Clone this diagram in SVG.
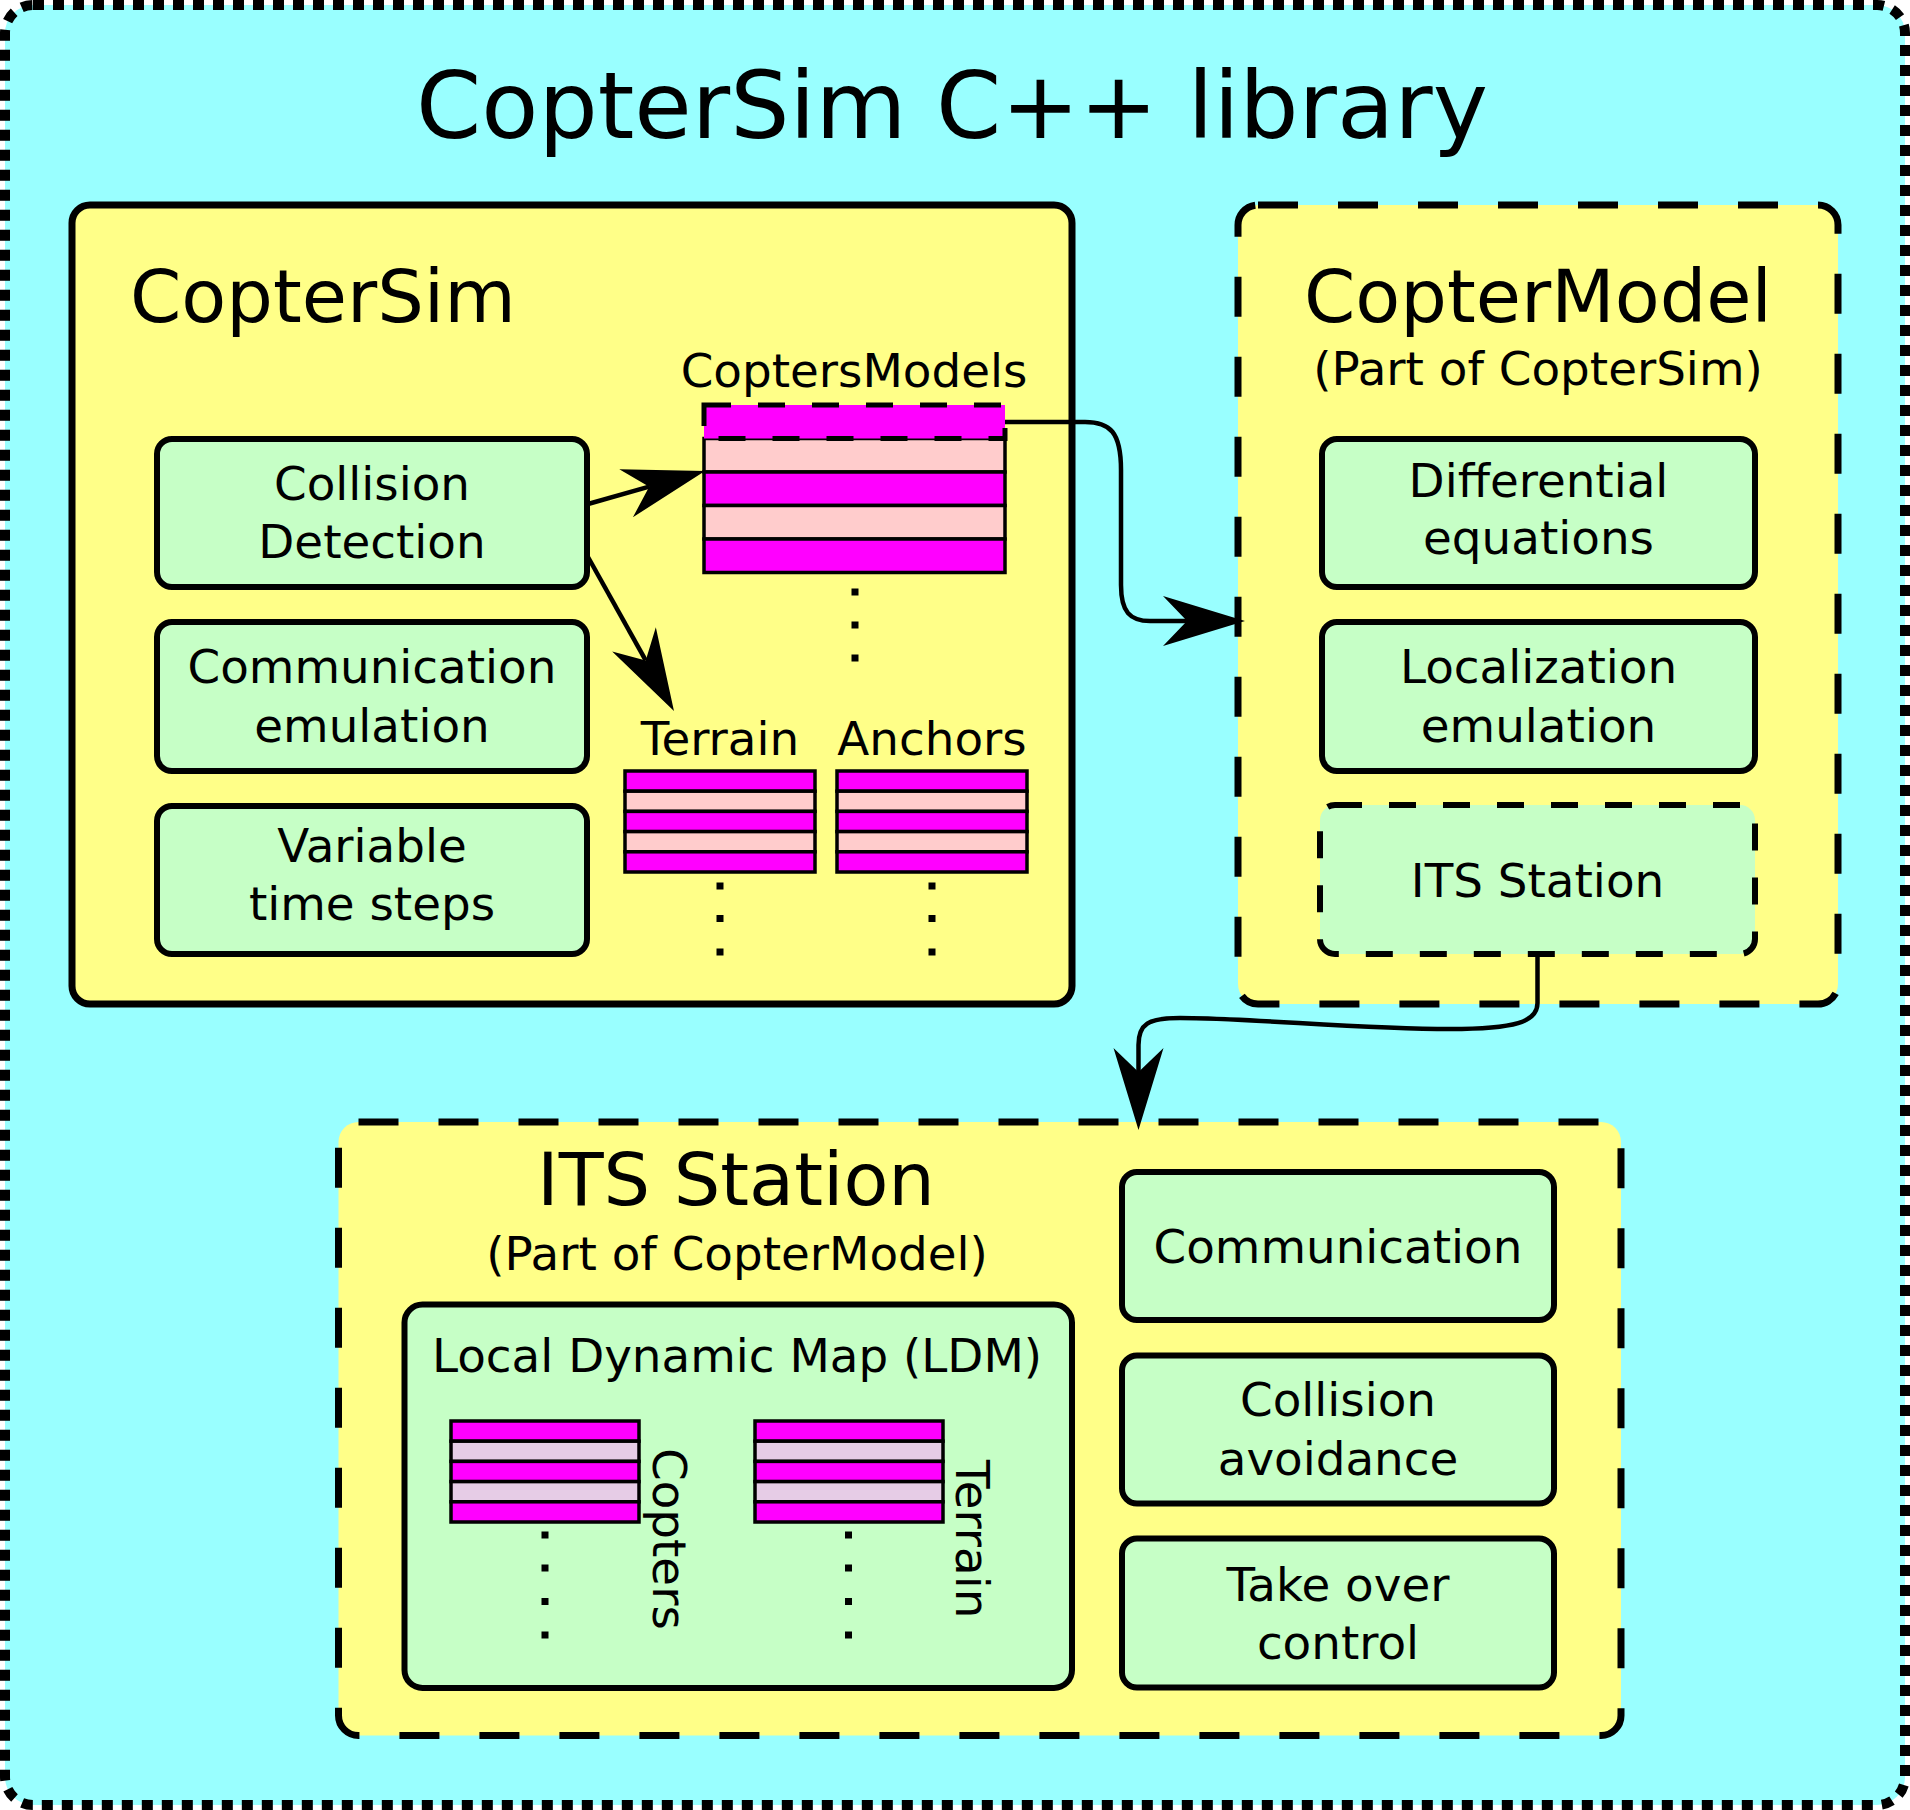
<svg xmlns="http://www.w3.org/2000/svg" width="1910" height="1810" viewBox="0 0 1910 1810">
<style>
text{font-family:"DejaVu Sans","Liberation Sans",sans-serif;fill:#000}
.title{font-size:93.4px;text-anchor:middle}
.h{font-size:73.5px}
.hc{font-size:73.5px;text-anchor:middle}
.m{font-size:46.8px;text-anchor:middle}
.grp{fill:#ffff88;stroke:#000;stroke-width:7}
.dash{stroke-dasharray:40,40}
.box{fill:#c6ffc6;stroke:#000;stroke-width:6}
.sdash{stroke-dasharray:27,27}
.mg{fill:#ff00ff;stroke:#000;stroke-width:3.5}
.pk{fill:#ffcccc;stroke:#000;stroke-width:3.5}
.lc{fill:#e6cce6;stroke:#000;stroke-width:3.5}
.dot{fill:#000}
.conn{fill:none;stroke:#000;stroke-width:4.5;marker-end:url(#arr)}
</style>
<defs>
<marker id="arr" markerUnits="userSpaceOnUse" orient="auto" markerWidth="100" markerHeight="60" viewBox="-26 -30 100 60" refX="0" refY="0">
<path d="M58,0 L-24,-25 L0,0 L-24,25 Z" fill="#000"/>
</marker>
</defs>
<rect x="0" y="0" width="1910" height="1810" fill="#fff"/>
<g id="library">
<rect x="5" y="5" width="1900" height="1800" rx="28" fill="#99ffff" stroke="#000" stroke-width="10" stroke-dasharray="11,9"/>
<text class="title" x="952" y="138">CopterSim C++ library</text>
</g>

<g id="coptersim">
<rect class="grp" x="72" y="205" width="1000" height="799" rx="18"/>
<text class="h" x="130" y="322">CopterSim</text>
</g>
<g id="collision-detection">
<rect class="box" x="157" y="439" width="430" height="148" rx="15"/>
<text class="m" x="372" y="500">Collision</text>
<text class="m" x="372" y="558">Detection</text>
</g>
<g id="communication-emulation">
<rect class="box" x="157" y="622" width="430" height="149" rx="15"/>
<text class="m" x="372" y="683">Communication</text>
<text class="m" x="372" y="742">emulation</text>
</g>
<g id="variable-time-steps">
<rect class="box" x="157" y="806" width="430" height="148" rx="15"/>
<text class="m" x="372" y="862">Variable</text>
<text class="m" x="372" y="920">time steps</text>
</g>
<g id="copters-models">
<text class="m" x="854" y="387">CoptersModels</text>
<rect class="pk" x="704" y="438.5" width="301" height="33.5"/>
<rect class="mg" x="704" y="472" width="301" height="33.5"/>
<rect class="pk" x="704" y="505.5" width="301" height="33.5"/>
<rect class="mg" x="704" y="539" width="301" height="33.5"/>
<rect x="704" y="405" width="301" height="33.5" fill="#ff00ff" stroke="#000" stroke-width="5" stroke-dasharray="27,27"/>
<rect class="dot" x="851.5" y="588.5" width="7" height="7"/>
<rect class="dot" x="851.5" y="621.5" width="7" height="7"/>
<rect class="dot" x="851.5" y="654.5" width="7" height="7"/>
</g>
<g id="terrain">
<text class="m" x="720" y="755">Terrain</text>
<rect class="mg" x="625" y="771" width="190" height="20.2"/>
<rect class="pk" x="625" y="791.2" width="190" height="20.2"/>
<rect class="mg" x="625" y="811.4" width="190" height="20.2"/>
<rect class="pk" x="625" y="831.6" width="190" height="20.2"/>
<rect class="mg" x="625" y="851.8" width="190" height="20.2"/>
<rect class="dot" x="716.5" y="882.5" width="7" height="7"/>
<rect class="dot" x="716.5" y="915" width="7" height="7"/>
<rect class="dot" x="716.5" y="948.5" width="7" height="7"/>
</g>
<g id="anchors">
<text class="m" x="932" y="755">Anchors</text>
<rect class="mg" x="837" y="771" width="190" height="20.2"/>
<rect class="pk" x="837" y="791.2" width="190" height="20.2"/>
<rect class="mg" x="837" y="811.4" width="190" height="20.2"/>
<rect class="pk" x="837" y="831.6" width="190" height="20.2"/>
<rect class="mg" x="837" y="851.8" width="190" height="20.2"/>
<rect class="dot" x="928.5" y="882.5" width="7" height="7"/>
<rect class="dot" x="928.5" y="915" width="7" height="7"/>
<rect class="dot" x="928.5" y="948.5" width="7" height="7"/>
</g>

<g id="coptermodel">
<rect class="grp dash" x="1238" y="205" width="600" height="799" rx="20"/>
<text class="hc" x="1538" y="322">CopterModel</text>
<text class="m" x="1538" y="385">(Part of CopterSim)</text>
</g>
<g id="differential-equations">
<rect class="box" x="1322" y="439" width="433" height="148" rx="15"/>
<text class="m" x="1538.5" y="497">Differential</text>
<text class="m" x="1538.5" y="554">equations</text>
</g>
<g id="localization-emulation">
<rect class="box" x="1322" y="622" width="433" height="149" rx="15"/>
<text class="m" x="1538.5" y="683">Localization</text>
<text class="m" x="1538.5" y="742">emulation</text>
</g>
<g id="its-station-ref">
<rect class="box sdash" x="1320" y="805" width="435" height="149" rx="15"/>
<text class="m" x="1537.5" y="897">ITS Station</text>
</g>

<g id="its-station">
<rect class="grp dash" x="338.5" y="1122" width="1282.5" height="613.5" rx="20"/>
<text class="hc" x="736" y="1205">ITS Station</text>
<text class="m" x="737" y="1270">(Part of CopterModel)</text>
</g>
<g id="ldm">
<rect class="box" x="404.5" y="1304.5" width="667.5" height="383.5" rx="18"/>
<text class="m" x="737" y="1372">Local Dynamic Map (LDM)</text>
</g>
<g id="ldm-copters">
<rect class="mg" x="451" y="1421" width="188" height="20.2"/>
<rect class="lc" x="451" y="1441.2" width="188" height="20.2"/>
<rect class="mg" x="451" y="1461.4" width="188" height="20.2"/>
<rect class="lc" x="451" y="1481.6" width="188" height="20.2"/>
<rect class="mg" x="451" y="1501.8" width="188" height="20.2"/>
<rect class="dot" x="541.5" y="1531.5" width="7" height="7"/>
<rect class="dot" x="541.5" y="1564.5" width="7" height="7"/>
<rect class="dot" x="541.5" y="1598" width="7" height="7"/>
<rect class="dot" x="541.5" y="1631.5" width="7" height="7"/>
<text font-size="46.8" transform="translate(653,1448) rotate(90)">Copters</text>
</g>
<g id="ldm-terrain">
<rect class="mg" x="755" y="1421" width="188" height="20.2"/>
<rect class="lc" x="755" y="1441.2" width="188" height="20.2"/>
<rect class="mg" x="755" y="1461.4" width="188" height="20.2"/>
<rect class="lc" x="755" y="1481.6" width="188" height="20.2"/>
<rect class="mg" x="755" y="1501.8" width="188" height="20.2"/>
<rect class="dot" x="845" y="1531.5" width="7" height="7"/>
<rect class="dot" x="845" y="1564.5" width="7" height="7"/>
<rect class="dot" x="845" y="1598" width="7" height="7"/>
<rect class="dot" x="845" y="1631.5" width="7" height="7"/>
<text font-size="46.8" transform="translate(956,1460) rotate(90)">Terrain</text>
</g>
<g id="communication">
<rect class="box" x="1122" y="1172" width="432" height="148" rx="15"/>
<text class="m" x="1338" y="1263">Communication</text>
</g>
<g id="collision-avoidance">
<rect class="box" x="1122" y="1355.5" width="432" height="148" rx="15"/>
<text class="m" x="1338" y="1416">Collision</text>
<text class="m" x="1338" y="1475">avoidance</text>
</g>
<g id="take-over-control">
<rect class="box" x="1122" y="1538.5" width="432" height="149" rx="15"/>
<text class="m" x="1338" y="1601">Take over</text>
<text class="m" x="1338" y="1659">control</text>
</g>

<g id="connectors">
<path class="conn" d="M588,504 L649.2,486.7"/>
<path class="conn" d="M588,557 L645.7,660.4"/>
<path class="conn" d="M1005,422 H1085 C1110,422 1121,432 1121,470 V585 C1121,612 1130,621 1150,621 H1187"/>
<path class="conn" d="M1537.5,955 V1003 C1537.5,1022 1515,1029 1450,1029 C1360,1029 1250,1018 1180,1018 C1148,1018 1138.5,1024 1138.5,1045 V1072"/>
</g>
</svg>
